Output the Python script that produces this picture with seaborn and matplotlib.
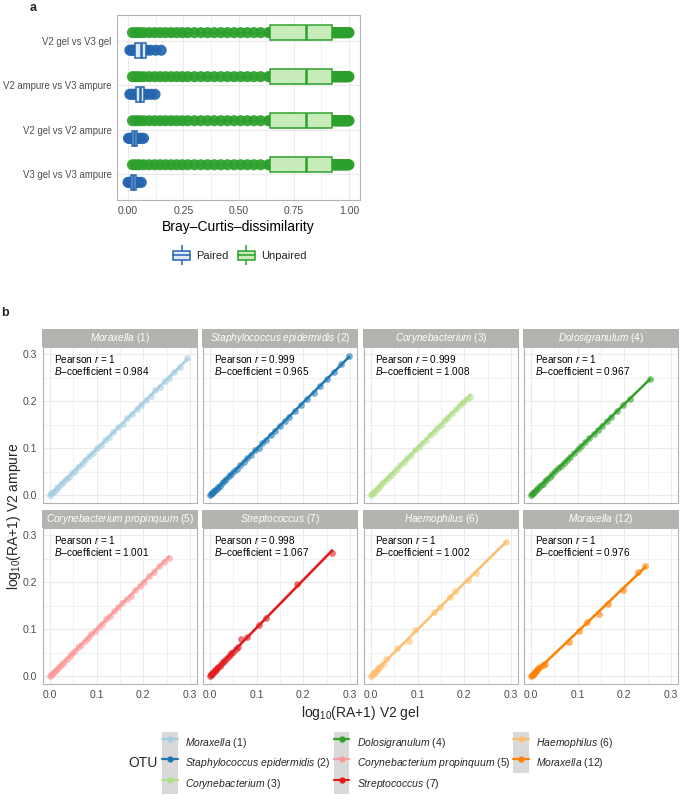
import numpy as np
import pandas as pd
import matplotlib
matplotlib.use('Agg')
import matplotlib.pyplot as plt
import seaborn as sns
from matplotlib.patches import Patch, Rectangle
from matplotlib.lines import Line2D
from matplotlib.collections import PolyCollection

sns.set_theme(style='white')
plt.rcParams['font.family'] = ['Liberation Sans', 'DejaVu Sans']
plt.rcParams['mathtext.fontset'] = 'custom'
plt.rcParams['mathtext.rm'] = 'Liberation Sans'
plt.rcParams['mathtext.it'] = 'Liberation Sans:italic'
plt.rcParams['mathtext.bf'] = 'Liberation Sans:bold'

# ---- panel a data: Bray-Curtis dissimilarities ----
comparisons = ['V2 gel vs V3 gel', 'V2 ampure vs V3 ampure',
               'V2 gel vs V2 ampure', 'V3 gel vs V3 ampure']

unpaired_dissim = [
    0.020, 0.035, 0.050, 0.070, 0.095, 0.120, 0.145, 0.170, 0.195, 0.220, 0.245, 0.270,
    0.300, 0.330, 0.360, 0.390, 0.420, 0.450, 0.480, 0.510, 0.540, 0.570, 0.600, 0.635,
    0.646, 0.652, 0.659, 0.666, 0.673, 0.680, 0.687, 0.694, 0.701, 0.708, 0.715, 0.722,
    0.729, 0.736, 0.743, 0.750, 0.757, 0.764, 0.771, 0.778, 0.785, 0.791, 0.796, 0.800,
    0.810, 0.815, 0.820, 0.825, 0.830, 0.835, 0.840, 0.845, 0.850, 0.855, 0.860, 0.865,
    0.870, 0.875, 0.880, 0.885, 0.890, 0.895, 0.900, 0.905, 0.910, 0.915, 0.919, 0.923,
    0.930, 0.933, 0.936, 0.939, 0.942, 0.945, 0.948, 0.951, 0.954, 0.957, 0.960, 0.963,
    0.966, 0.969, 0.972, 0.975, 0.978, 0.981, 0.984, 0.987, 0.990, 0.994, 0.997, 1.000]

paired_v2gel_v3gel = [0.008, 0.015, 0.022, 0.030, 0.038, 0.046, 0.054, 0.060, 0.066,
                      0.072, 0.082, 0.100, 0.125, 0.150]
paired_v2amp_v3amp = [0.008, 0.016, 0.024, 0.033, 0.040, 0.047, 0.052, 0.056, 0.062,
                      0.068, 0.074, 0.088, 0.105, 0.122]
paired_v2gel_v2amp = [0.002, 0.008, 0.013, 0.019, 0.023, 0.026, 0.028, 0.030, 0.034,
                      0.038, 0.044, 0.052, 0.061, 0.070]
paired_v3gel_v3amp = [0.000, 0.004, 0.008, 0.011, 0.015, 0.018, 0.020, 0.022, 0.026,
                      0.030, 0.035, 0.042, 0.050, 0.060]
paired_lists = [paired_v2gel_v3gel, paired_v2amp_v3amp, paired_v2gel_v2amp, paired_v3gel_v3amp]

rows = []
for comp, paired in zip(comparisons, paired_lists):
    for v in unpaired_dissim:
        rows.append((comp, 'Unpaired', v))
    for v in paired:
        rows.append((comp, 'Paired', v))
bc = pd.DataFrame(rows, columns=['comparison', 'type', 'value'])

# ---- panel b data: log10(RA+1) V2 gel (x) vs V2 ampure (y) ----
otu_genus = ['Moraxella', 'Staphylococcus epidermidis', 'Corynebacterium', 'Dolosigranulum',
             'Corynebacterium propinquum', 'Streptococcus', 'Haemophilus', 'Moraxella']
otu_id = [1, 2, 3, 4, 5, 7, 6, 12]
otu_colors = ['#a6cee3', '#1f78b4', '#b2df8a', '#33a02c', '#fb9a99', '#e31a1c', '#fdbf6f', '#ff7f00']
pearson_r = ['1', '0.999', '0.999', '1', '1', '0.998', '1', '1']
b_coef = ['0.984', '0.965', '1.008', '0.967', '1.001', '1.067', '1.002', '0.976']

mor1_gel = [0.000, 0.003, 0.006, 0.010, 0.014, 0.018, 0.023, 0.028, 0.034, 0.040, 0.047, 0.054,
            0.061, 0.068, 0.076, 0.084, 0.092, 0.100, 0.109, 0.118, 0.127, 0.136, 0.146, 0.156,
            0.166, 0.176, 0.186, 0.196, 0.206, 0.216, 0.226, 0.236, 0.246, 0.256, 0.266, 0.278, 0.294]
mor1_amp = [0.000, 0.004, 0.006, 0.009, 0.015, 0.017, 0.023, 0.027, 0.034, 0.039, 0.047, 0.052,
            0.060, 0.067, 0.074, 0.084, 0.089, 0.099, 0.106, 0.117, 0.124, 0.134, 0.144, 0.152,
            0.164, 0.172, 0.184, 0.192, 0.203, 0.211, 0.224, 0.230, 0.243, 0.250, 0.262, 0.272, 0.291]
staph_gel = [0.000, 0.002, 0.004, 0.006, 0.008, 0.011, 0.014, 0.017, 0.021, 0.025, 0.030, 0.035,
             0.040, 0.046, 0.052, 0.058, 0.065, 0.072, 0.080, 0.088, 0.096, 0.104, 0.112, 0.120,
             0.130, 0.140, 0.150, 0.160, 0.170, 0.182, 0.195, 0.208, 0.222, 0.236, 0.250, 0.265,
             0.280, 0.298]
staph_amp = [0.000, 0.003, 0.004, 0.007, 0.008, 0.011, 0.013, 0.017, 0.020, 0.025, 0.029, 0.034,
             0.040, 0.045, 0.052, 0.056, 0.064, 0.070, 0.079, 0.085, 0.095, 0.100, 0.110, 0.117,
             0.128, 0.137, 0.147, 0.157, 0.167, 0.178, 0.192, 0.205, 0.218, 0.232, 0.247, 0.262,
             0.278, 0.296]
cory_gel = [0.000, 0.003, 0.006, 0.010, 0.014, 0.019, 0.024, 0.030, 0.036, 0.042, 0.049, 0.056,
            0.063, 0.070, 0.078, 0.086, 0.094, 0.102, 0.110, 0.118, 0.126, 0.134, 0.142, 0.150,
            0.158, 0.166, 0.174, 0.182, 0.190, 0.198, 0.206, 0.213]
cory_amp = [0.000, 0.003, 0.007, 0.010, 0.015, 0.019, 0.025, 0.030, 0.037, 0.042, 0.050, 0.056,
            0.064, 0.070, 0.079, 0.086, 0.095, 0.103, 0.111, 0.118, 0.127, 0.135, 0.143, 0.150,
            0.160, 0.167, 0.175, 0.183, 0.192, 0.199, 0.204, 0.209]
dolo_gel = [0.000, 0.002, 0.004, 0.007, 0.010, 0.013, 0.017, 0.021, 0.025, 0.030, 0.035, 0.040,
            0.046, 0.052, 0.058, 0.064, 0.070, 0.077, 0.084, 0.092, 0.100, 0.108, 0.116, 0.125,
            0.134, 0.143, 0.152, 0.162, 0.172, 0.185, 0.198, 0.212, 0.255]
dolo_amp = [0.000, 0.002, 0.005, 0.006, 0.010, 0.013, 0.016, 0.021, 0.024, 0.029, 0.035, 0.039,
            0.045, 0.051, 0.057, 0.062, 0.068, 0.075, 0.081, 0.089, 0.097, 0.104, 0.112, 0.121,
            0.130, 0.138, 0.147, 0.157, 0.167, 0.179, 0.191, 0.205, 0.247]
cprop_gel = [0.000, 0.002, 0.004, 0.007, 0.010, 0.013, 0.017, 0.021, 0.026, 0.031, 0.036, 0.042,
             0.048, 0.054, 0.060, 0.067, 0.074, 0.081, 0.088, 0.096, 0.104, 0.112, 0.120, 0.128,
             0.137, 0.146, 0.155, 0.164, 0.173, 0.182, 0.192, 0.202, 0.212, 0.222, 0.233, 0.244, 0.255]
cprop_amp = [0.000, 0.003, 0.004, 0.007, 0.011, 0.013, 0.017, 0.022, 0.026, 0.030, 0.037, 0.042,
             0.049, 0.053, 0.061, 0.066, 0.075, 0.080, 0.089, 0.096, 0.105, 0.111, 0.121, 0.127,
             0.138, 0.146, 0.155, 0.164, 0.170, 0.183, 0.192, 0.201, 0.213, 0.221, 0.234, 0.243, 0.252]
strep_gel = [0.000, 0.002, 0.003, 0.005, 0.007, 0.009, 0.011, 0.013, 0.015, 0.018, 0.021, 0.024,
             0.027, 0.030, 0.034, 0.038, 0.042, 0.046, 0.050, 0.055, 0.060, 0.066, 0.080, 0.105,
             0.119, 0.187, 0.262]
strep_amp = [0.000, 0.002, 0.004, 0.005, 0.008, 0.009, 0.012, 0.013, 0.016, 0.019, 0.022, 0.025,
             0.029, 0.031, 0.036, 0.040, 0.044, 0.048, 0.052, 0.058, 0.062, 0.078, 0.082, 0.108,
             0.123, 0.195, 0.262]
haem_gel = [0.000, 0.002, 0.004, 0.006, 0.008, 0.010, 0.013, 0.016, 0.020, 0.025, 0.032, 0.055,
            0.081, 0.094, 0.136, 0.147, 0.170, 0.181, 0.208, 0.226, 0.289]
haem_amp = [0.000, 0.003, 0.004, 0.006, 0.009, 0.010, 0.012, 0.017, 0.019, 0.026, 0.036, 0.059,
            0.074, 0.097, 0.137, 0.146, 0.169, 0.180, 0.205, 0.220, 0.285]
mor12_gel = [0.000, 0.002, 0.004, 0.006, 0.008, 0.010, 0.013, 0.016, 0.020, 0.025, 0.030, 0.081,
             0.102, 0.119, 0.145, 0.164, 0.198, 0.229, 0.245]
mor12_amp = [0.000, 0.002, 0.003, 0.006, 0.008, 0.010, 0.012, 0.016, 0.019, 0.024, 0.025, 0.072,
             0.095, 0.114, 0.131, 0.154, 0.184, 0.222, 0.235]

gel_lists = [mor1_gel, staph_gel, cory_gel, dolo_gel, cprop_gel, strep_gel, haem_gel, mor12_gel]
amp_lists = [mor1_amp, staph_amp, cory_amp, dolo_amp, cprop_amp, strep_amp, haem_amp, mor12_amp]

W, H = 685, 800
fig = plt.figure(figsize=(W / 100, H / 100), dpi=100)
fig.patch.set_facecolor('white')

border = '#b3b3b3'
gridc = '#ebebeb'
tickc = '#4d4d4d'
green = '#2ca02c'
blue = '#2565ae'


def px_axes(left, top, width, height):
    return fig.add_axes([left / W, 1 - (top + height) / H, width / W, height / H])


# ================= panel a =================
axa = px_axes(117, 15, 243, 185)
pal_pts = {'Unpaired': green, 'Paired': blue}
sns.stripplot(data=bc, x='value', y='comparison', hue='type', order=comparisons,
              hue_order=['Unpaired', 'Paired'], palette=pal_pts, dodge=True, jitter=False,
              size=8, alpha=0.92, linewidth=0, legend=False, ax=axa, zorder=1)
box_face = {'Unpaired': '#c8ecb9', 'Paired': '#dde9f6'}
for kind, edge in [('Unpaired', green), ('Paired', blue)]:
    sns.boxplot(data=bc[bc['type'] == kind], x='value', y='comparison', hue='type',
                order=comparisons, hue_order=['Unpaired', 'Paired'], palette=box_face,
                saturation=1, linecolor=edge, dodge=True, width=0.8, gap=0.15,
                showfliers=False, showcaps=False, linewidth=1.1,
                medianprops={'linewidth': 1.8}, legend=False, ax=axa)
axa.set_xlim(-0.05, 1.05)
axa.set_ylim(3.6, -0.6)
axa.set_xticks([0, 0.25, 0.5, 0.75, 1.0])
axa.set_xticklabels(['0.00', '0.25', '0.50', '0.75', '1.00'])
axa.set_xticks([0.125, 0.375, 0.625, 0.875], minor=True)
axa.grid(True, which='major', color=gridc, lw=0.8)
axa.grid(True, which='minor', axis='x', color=gridc, lw=0.5)
axa.set_axisbelow(True)
for s in axa.spines.values():
    s.set_color(border)
    s.set_linewidth(0.8)
axa.tick_params(axis='both', which='major', length=2.5, color=border, labelsize=7.5,
                labelcolor=tickc, pad=2)
axa.tick_params(axis='y', labelsize=6.9, pad=1.5)
axa.tick_params(axis='both', which='minor', length=0)
axa.set_ylabel('')
axa.set_xlabel('Bray–Curtis–dissimilarity', fontsize=10, color='black', labelpad=3)

hand_a = []
for edge, face in [(blue, box_face['Paired']), (green, box_face['Unpaired'])]:
    hand_a.append((Line2D([], [], marker='|', ms=15, mew=1.1, color=edge, ls='none'),
                   Patch(facecolor=face, edgecolor=edge, lw=1.1),
                   Line2D([], [], color=edge, lw=1.1)))
fig.legend(hand_a, ['Paired', 'Unpaired'], loc='center', bbox_to_anchor=(240 / W, 1 - 256 / H),
           ncol=2, frameon=False, fontsize=8, handlelength=1.5, handleheight=0.9,
           handletextpad=0.6, columnspacing=0.8)

fig.text(33 / W, 1 - 8 / H, 'a', fontsize=9, fontweight='bold', ha='center', va='center')
fig.text(5 / W, 1 - 313 / H, 'b', fontsize=9, fontweight='bold', ha='center', va='center')

# ================= panel b =================
lefts = [43, 203, 364, 524]
tops = [347, 528]
pw, ph, strip_h = 154, 156, 18
for i in range(8):
    r, c = divmod(i, 4)
    ax = px_axes(lefts[c], tops[r], pw, ph)
    col = otu_colors[i]
    sns.regplot(x=np.array(gel_lists[i]), y=np.array(amp_lists[i]), ax=ax, color=col, ci=95,
                seed=1, truncate=True,
                scatter_kws={'s': 24, 'alpha': 0.6, 'linewidths': 0},
                line_kws={'lw': 1.8})
    for coll in ax.collections:
        if isinstance(coll, PolyCollection):
            coll.set_facecolor((0.6, 0.6, 0.6, 0.4))
            coll.set_edgecolor('none')
    ax.set_xlim(-0.015, 0.315)
    ax.set_ylim(-0.017, 0.315)
    ax.set_xticks([0, 0.1, 0.2, 0.3])
    ax.set_yticks([0, 0.1, 0.2, 0.3])
    ax.set_xticklabels(['0.0', '0.1', '0.2', '0.3'])
    ax.set_yticklabels(['0.0', '0.1', '0.2', '0.3'])
    ax.set_xticks([0.05, 0.15, 0.25], minor=True)
    ax.set_yticks([0.05, 0.15, 0.25], minor=True)
    ax.grid(True, which='major', color=gridc, lw=0.8)
    ax.grid(True, which='minor', color=gridc, lw=0.5)
    ax.set_axisbelow(True)
    for s in ax.spines.values():
        s.set_color(border)
        s.set_linewidth(0.8)
    ax.tick_params(axis='both', which='major', length=2, color=border, labelsize=7.5,
                   labelcolor=tickc, pad=2, labelleft=(c == 0), labelbottom=(r == 1))
    ax.tick_params(axis='both', which='minor', length=0)
    ax.set_xlabel('')
    ax.set_ylabel('')
    sf = strip_h / ph
    ax.add_patch(Rectangle((-0.004, 1.0), 1.008, sf, transform=ax.transAxes, clip_on=False,
                           facecolor='#b5b3b0', edgecolor='none'))
    genus = otu_genus[i].replace(' ', r'\ ')
    ax.text(0.5, 1 + sf / 2, r'$\it{' + genus + '}$' + f' ({otu_id[i]})', transform=ax.transAxes,
            ha='center', va='center', color='white', fontsize=7.2)
    ax.text(0.009, 0.289, r'Pearson $r$ = ' + pearson_r[i], fontsize=7.2, va='center', color='black')
    ax.text(0.009, 0.264, r'$B$–coefficient = ' + b_coef[i], fontsize=7.2, va='center', color='black')

fig.text(360 / W, 1 - 713 / H, r'log$_{10}$(RA+1) V2 gel', ha='center', va='center', fontsize=10)
fig.text(14 / W, 1 - 516 / H, r'log$_{10}$(RA+1) V2 ampure', ha='center', va='center',
         fontsize=10, rotation=90)

# legend for panel b
hand_b, lab_b = [], []
for i in range(8):
    hand_b.append((Patch(facecolor='#d9d9d9', edgecolor='none'),
                   Line2D([], [], color=otu_colors[i], lw=1.6, marker='o', ms=3.5)))
    genus = otu_genus[i].replace(' ', r'\ ')
    lab_b.append(r'$\it{' + genus + '}$' + f' ({otu_id[i]})')
fig.legend(hand_b, lab_b, loc='center', bbox_to_anchor=(388 / W, 1 - 763 / H), ncol=3,
           frameon=False, fontsize=7.5, handlelength=1.5, handleheight=2.66, labelspacing=0,
           handletextpad=0.7, columnspacing=0.3, borderpad=0)
fig.text(143 / W, 1 - 763 / H, 'OTU', ha='center', va='center', fontsize=10)

fig.savefig('out.png', dpi=100)
